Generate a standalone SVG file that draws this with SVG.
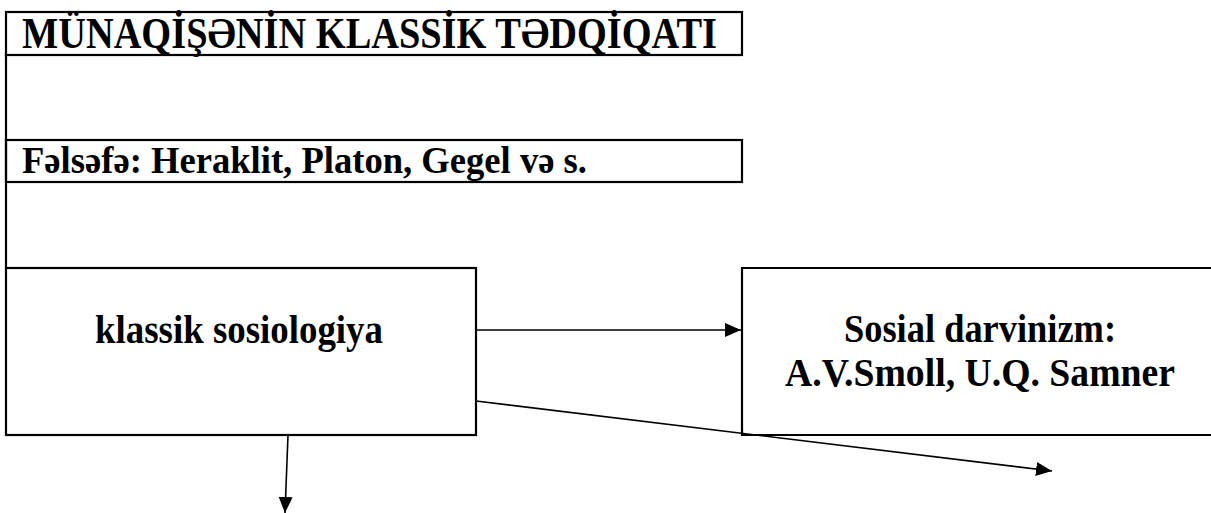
<svg xmlns="http://www.w3.org/2000/svg" width="1211" height="513" viewBox="0 0 1211 513">
<defs>
<style>
.box{fill:none;stroke:#000;stroke-width:2.2}
.t{font-family:"Liberation Serif","Times New Roman",serif;font-weight:bold;fill:#000}
.c{stroke:#000;stroke-width:1.6;fill:none}
</style>
<marker id="ah" markerWidth="16" markerHeight="14" refX="16" refY="7" orient="auto" markerUnits="userSpaceOnUse">
<path d="M0,0 L16,7 L0,14 Z" fill="#000"/>
</marker>
</defs>
<rect width="1211" height="513" fill="#fff"/>
<g id="title">
<rect class="box" x="6" y="12" width="736" height="43"/>
<text class="t" x="22" y="48" font-size="44" textLength="695" lengthAdjust="spacingAndGlyphs">MÜNAQİŞƏNİN KLASSİK TƏDQİQATI</text>
</g>
<g id="frame">
<line class="box" x1="6" y1="55" x2="6" y2="267"/>
</g>
<g id="felsefe">
<rect class="box" x="6" y="140" width="736" height="42"/>
<text class="t" x="22" y="173" font-size="38" textLength="565" lengthAdjust="spacingAndGlyphs">Fəlsəfə: Heraklit, Platon, Gegel və s.</text>
</g>
<g id="klassik">
<rect class="box" x="6" y="268" width="470" height="167"/>
<text class="t" x="95" y="343" font-size="39" textLength="288" lengthAdjust="spacingAndGlyphs">klassik sosiologiya</text>
</g>
<g id="sosial">
<path class="box" d="M1215,268 H742 V435 H1215"/>
<text class="t" x="980" y="342" font-size="39" text-anchor="middle" textLength="272" lengthAdjust="spacingAndGlyphs">Sosial darvinizm:</text>
<text class="t" x="980" y="386" font-size="39" text-anchor="middle" textLength="390" lengthAdjust="spacingAndGlyphs">A.V.Smoll, U.Q. Samner</text>
</g>
<g id="connectors">
<line class="c" x1="476" y1="330" x2="741" y2="330" marker-end="url(#ah)"/>
<line class="c" x1="476" y1="401" x2="1052" y2="471" marker-end="url(#ah)"/>
<line class="c" x1="288" y1="435" x2="285" y2="513" marker-end="url(#ah)"/>
</g>
</svg>
